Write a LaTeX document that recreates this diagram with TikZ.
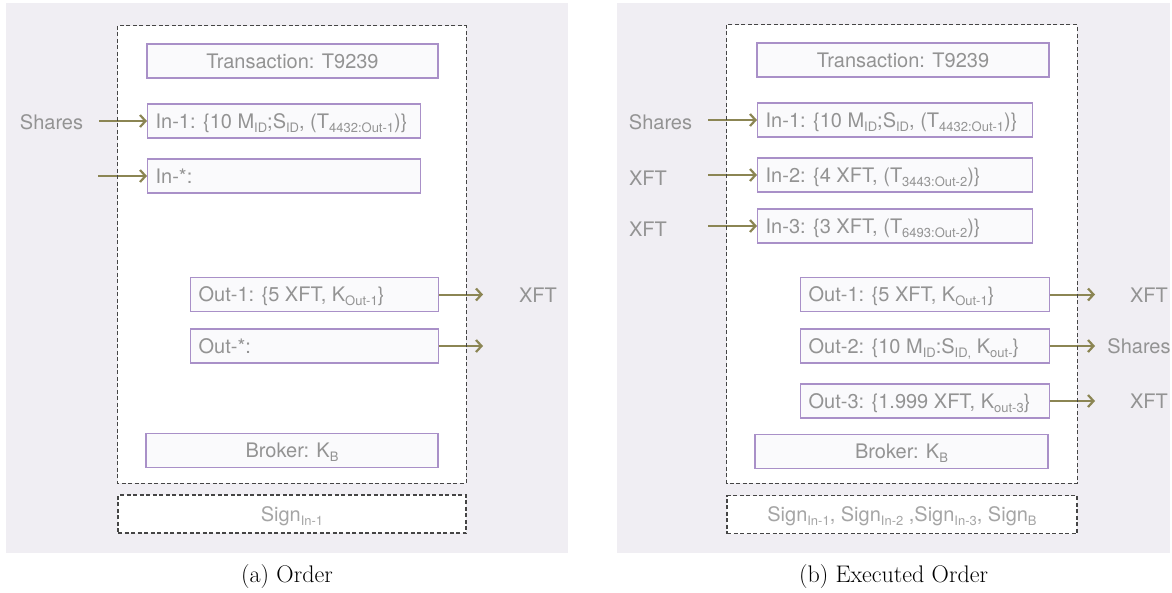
\documentclass[tikz,border=0pt]{standalone}
\usepackage{fontspec}
\usetikzlibrary{arrows.meta}
\newfontfamily\hv{TeX Gyre Heros}
\definecolor{bgc}{HTML}{F0EEF3}
\definecolor{boxc}{HTML}{A990C8}
\definecolor{boxf}{HTML}{FAFAFC}
\definecolor{arrc}{HTML}{8B8553}
\definecolor{txtc}{HTML}{939393}
\definecolor{sgnc}{HTML}{A5A5A5}
\definecolor{dashc}{HTML}{454545}
\newcommand{\sbs}[1]{\raisebox{-4pt}{\fontsize{13}{13}\selectfont #1}}
\newcommand{\lft}[2]{\makebox[#1][l]{#2}}
\tikzset{
  lab/.style={font=\hv\fontsize{20}{22}\selectfont, text=txtc, inner sep=0pt},
  pbox/.style={draw=boxc, fill=boxf, line width=1.3pt, minimum height=34pt,
    inner xsep=8pt, inner ysep=0pt, text height=14.4pt, text depth=0pt,
    font=\hv\fontsize{20}{22}\selectfont, text=txtc},
  lbox/.style={pbox, anchor=west},
  dline/.style={draw=dashc, line width=1.1pt, dash pattern=on 4pt off 2.5pt},
  sbox/.style={dline, fill=white, minimum height=38pt, inner sep=0pt, text height=14.4pt, text depth=0pt,
    font=\hv\fontsize{20}{22}\selectfont, text=sgnc},
  flow/.style={draw=arrc, line width=2pt, -{Straight Barb[length=5.5pt,width=12pt,line width=2.2pt]}},
  captxt/.style={font=\fontsize{24}{28}\selectfont, inner sep=0pt},
}
\begin{document}
\begin{tikzpicture}[x=1pt,y=-1pt]
\useasboundingbox (0,0) rectangle (1172,592);
% backgrounds
\fill[bgc] (6,3) rectangle (568,553);
\fill[bgc] (617,3) rectangle (1170,553);
% ---------------- panel (a)
\node[fill=white, minimum width=348pt, minimum height=457pt, inner sep=0pt] (fa) at (292,254.5) {};
\node[pbox, minimum width=291pt] (ta) at (292.5,61) {Transaction: T9239};
\node[lbox, minimum width=273pt] (in1a) at (147,121) {\lft{257pt}{In-1: \{10 M\sbs{ID};S\sbs{ID}, (T\sbs{4432:Out-1})\}}};
\node[lbox, minimum width=273pt] (insa) at (147,176) {\lft{257pt}{In-*:}};
\node[lbox, minimum width=248pt] (out1a) at (190,294.5) {\lft{232pt}{Out-1: \{5 XFT, K\sbs{Out-1}\}}};
\node[lbox, minimum width=248pt] (outsa) at (190,346) {\lft{232pt}{Out-*:}};
\node[pbox, minimum width=292pt] (broka) at (292,450.5) {Broker: K\sbs{B}};
\node[sbox, minimum width=348pt] (sga) at (292,514) {Sign\sbs{In-1}};
\node[lab] (sha) at (51.5,122) {Shares};
\coordinate (ina) at (99,121);
\coordinate (insrc) at (98,176);
\coordinate (oa1) at (483,294.5);
\coordinate (oa2) at (483,346);
\node[lab] (xfa) at (538,295) {XFT};
\draw[flow] (ina) -- (in1a.west);
\draw[flow] (insrc) -- (insa.west);
\draw[flow] (out1a.east) -- (oa1);
\draw[flow] (outsa.east) -- (oa2);
\draw[dline] (fa.north west) rectangle (fa.south east);
\node[captxt] (capa) at (287,577) {(a) Order};
% ---------------- panel (b)
\node[fill=white, minimum width=350pt, minimum height=458pt, inner sep=0pt] (fb) at (902,254) {};
\node[pbox, minimum width=292pt] (tb) at (903,60) {Transaction: T9239};
\node[lbox, minimum width=275pt] (in1b) at (757,120) {\lft{259pt}{In-1: \{10 M\sbs{ID};S\sbs{ID}, (T\sbs{4432:Out-1})\}}};
\node[lbox, minimum width=275pt] (in2b) at (757,175) {\lft{259pt}{In-2: \{4 XFT, (T\sbs{3443:Out-2})\}}};
\node[lbox, minimum width=275pt] (in3b) at (757,226) {\lft{259pt}{In-3: \{3 XFT, (T\sbs{6493:Out-2})\}}};
\node[lbox, minimum width=249pt] (out1b) at (800,294.5) {\lft{233pt}{Out-1: \{5 XFT, K\sbs{Out-1}\}}};
\node[lbox, minimum width=249pt] (out2b) at (800,346) {\lft{233pt}{Out-2: \{10 M\sbs{ID}:S\sbs{ID,} K\sbs{out-}\}}};
\node[lbox, minimum width=249pt] (out3b) at (800,401) {\lft{233pt}{Out-3: \{1.999 XFT, K\sbs{out-3}\}}};
\node[pbox, minimum width=293pt] (brokb) at (901.5,451.5) {Broker: K\sbs{B}};
\node[sbox, minimum width=350pt] (sgb) at (902,514.5) {Sign\sbs{In-1}, Sign\sbs{In-2} ,Sign\sbs{In-3}, Sign\sbs{B}};
\node[lab] (shb) at (660.5,122) {Shares};
\node[lab] (xb1) at (648,178) {XFT};
\node[lab] (xb2) at (648,229) {XFT};
\coordinate (ib1) at (708,120);
\coordinate (ib2) at (708,175);
\coordinate (ib3) at (708,226);
\draw[flow] (ib1) -- (in1b.west);
\draw[flow] (ib2) -- (in2b.west);
\draw[flow] (ib3) -- (in3b.west);
\coordinate (ob1) at (1095,294.5);
\coordinate (ob2) at (1095,346);
\coordinate (ob3) at (1095,401);
\draw[flow] (out1b.east) -- (ob1);
\draw[flow] (out2b.east) -- (ob2);
\draw[flow] (out3b.east) -- (ob3);
\node[lab] (xo1) at (1149,295) {XFT};
\node[lab] (xo2) at (1139,346) {Shares};
\node[lab] (xo3) at (1149,401) {XFT};
\draw[dline] (fb.north west) rectangle (fb.south east);
\node[captxt] (capb) at (893.5,577) {(b) Executed Order};
\end{tikzpicture}
\end{document}
